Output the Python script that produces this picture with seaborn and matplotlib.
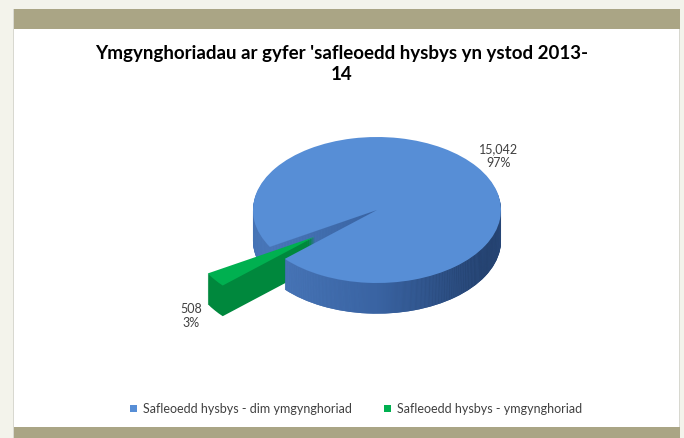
import numpy as np
import matplotlib
matplotlib.use("Agg")
import matplotlib.pyplot as plt
import seaborn as sns
from matplotlib.patches import Rectangle
from matplotlib.colors import LinearSegmentedColormap

# data
categories = ["Safleoedd hysbys - dim ymgynghoriad", "Safleoedd hysbys - ymgynghoriad"]
values = [15042, 508]
title = "Ymgynghoriadau ar gyfer 'safleoedd hysbys yn ystod 2013-\n14"

top_colors = ["#578ed6", "#00b050"]
side_colors = ["#3a64a3", "#00883d"]
side_cmap = LinearSegmentedColormap.from_list("side", ["#5080c4", "#3a64a3", "#1c345a"])

sns.set_theme(style="white")
plt.rcParams["font.family"] = ["Lato", "DejaVu Sans"]

W, H = 684, 438
fig = plt.figure(figsize=(W / 100, H / 100), dpi=100, facecolor="#f3f3eb")

# frame around the chart
def px_rect(x0, y0, x1, y1, color):
    fig.patches.append(Rectangle((x0 / W, 1 - y1 / H), (x1 - x0) / W, (y1 - y0) / H,
                                 transform=fig.transFigure, facecolor=color,
                                 edgecolor="none", zorder=-5))

px_rect(13, 9, 680, 438, "#d8d8d0")
px_rect(14, 29, 679, 427, "white")
px_rect(14, 9, 680, 29, "#aaa585")
px_rect(14, 427, 680, 438, "#aaa585")

ax = fig.add_axes([0, 0, 1, 1])
ax.patch.set_alpha(0)

start = 222
explode = [0, 0.62]
depth = 0.42
layers = np.linspace(depth, 0, 32)

grad = np.linspace(0, 1, 256).reshape(1, -1)
top_wedges = None
for i, k in enumerate(layers):
    is_top = (k == 0)
    wedges, _ = ax.pie(values, colors=top_colors if is_top else side_colors,
                       explode=explode, startangle=start, center=(0, -k),
                       wedgeprops=dict(linewidth=0))
    z = 10 + i * 3
    wedges[0].set_zorder(z)
    wedges[1].set_zorder(z + 2)
    if is_top:
        top_wedges = wedges
    else:
        im = ax.imshow(grad, cmap=side_cmap, extent=(-1.05, 1.05, -1.6, 0.2),
                       aspect="auto", zorder=z + 1, interpolation="bilinear")
        im.set_clip_path(wedges[0])

# value labels
total = sum(values)
label_pos = [(0.98, 0.74), (-1.50, -1.45)]
for v, (lx, ly) in zip(values, label_pos):
    ax.text(lx, ly, f"{v:,}\n{round(100 * v / total)}%", ha="center", va="center",
            fontsize=9, color="#404040", linespacing=1.25, zorder=200)

# map unit circle -> rx 124 px, ry 73 px, centre (377, 210) px
cx, cy, rx, ry = 377, 210, 124, 73
ax.set_xlim(-cx / rx, (W - cx) / rx)
ax.set_ylim((cy - H) / ry, cy / ry)
ax.set_aspect("auto")
ax.axis("off")

fig.text(0.5, 1 - 64 / H, title, ha="center", va="center", fontsize=13.5,
         fontweight="bold", color="black", linespacing=1.35)

fig.legend(top_wedges, categories, loc="center", bbox_to_anchor=(356 / W, 1 - 409 / H),
           ncol=2, frameon=False, fontsize=9, handlelength=0.55, handleheight=0.55,
           handletextpad=0.45, columnspacing=2.6, labelcolor="#404040")

fig.savefig("out.png", dpi=100, facecolor=fig.get_facecolor())
